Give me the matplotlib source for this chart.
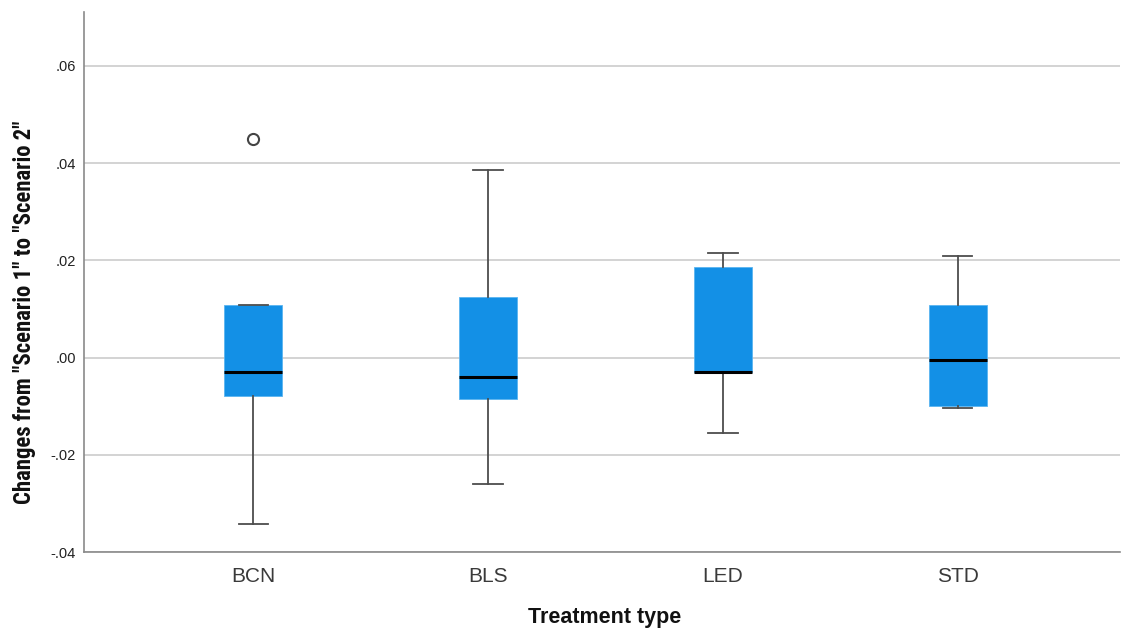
import matplotlib
matplotlib.use("Agg")
import matplotlib.pyplot as plt
from matplotlib import font_manager

# Treatment groups and their box-plot summaries
categories = ["BCN", "BLS", "LED", "STD"]
whisker_low = [-0.0343, -0.0261, -0.0155, -0.0104]
q1 = [-0.0080, -0.0086, -0.0029, -0.0100]
median = [-0.0029, -0.0040, -0.0029, -0.0006]
q3 = [0.0108, 0.0125, 0.0187, 0.0108]
whisker_high = [0.0108, 0.0386, 0.0216, 0.0209]
outliers = [[0.0450], [], [], []]

y_ticks = [-0.04, -0.02, 0.00, 0.02, 0.04, 0.06]


def spss_fmt(v):
    s = f"{v:.2f}"
    return s.replace("0.", ".", 1)


# Pick a condensed sans face for the vertical axis title when one is installed
fonts = font_manager.fontManager.ttflist
narrow_family, narrow_stretch = "Liberation Sans", "normal"
for f in fonts:
    if f.name in ("Liberation Sans Narrow", "Arial Narrow", "Roboto Condensed"):
        narrow_family, narrow_stretch = f.name, "normal"
        break
else:
    for f in fonts:
        if f.name == "DejaVu Sans" and f.stretch == "condensed":
            narrow_family, narrow_stretch = "DejaVu Sans", "condensed"
            break

fig = plt.figure(figsize=(11.22, 6.32), dpi=100)
ax = fig.add_axes([84 / 1122, 1 - 552 / 632, (1120 - 84) / 1122, (552 - 12) / 632])

stats = []
for i, cat in enumerate(categories):
    stats.append(dict(label=cat, whislo=whisker_low[i], q1=q1[i], med=median[i],
                      q3=q3[i], whishi=whisker_high[i], fliers=outliers[i]))

ax.bxp(stats, positions=range(len(categories)), widths=0.248, patch_artist=True,
       showfliers=True, capwidths=0.124,
       boxprops=dict(facecolor="#1390e6", edgecolor="#5ab4f0", linewidth=0.6),
       medianprops=dict(color="black", linewidth=2.2),
       whiskerprops=dict(color="#4d4d4d", linewidth=1.3),
       capprops=dict(color="#4d4d4d", linewidth=1.3),
       flierprops=dict(marker="o", markersize=8, markerfacecolor="white",
                       markeredgecolor="#444444", markeredgewidth=1.5),
       zorder=3)

ax.set_xlim(-0.72, 3.69)
ax.set_ylim(-0.04, 0.0711)
ax.set_yticks(y_ticks)
ax.set_yticklabels([spss_fmt(v) for v in y_ticks], fontsize=10.5, color="#222222",
                   family="Liberation Sans")
ax.set_xticks(range(len(categories)))
ax.set_xticklabels(categories, fontsize=15, color="#3a3a3a", family="Liberation Sans")
ax.tick_params(axis="both", length=0)
ax.tick_params(axis="y", pad=6)
ax.tick_params(axis="x", pad=11)

ax.yaxis.grid(True, color="#d3d3d3", linewidth=1.4, zorder=0)
ax.set_axisbelow(True)
for side in ["top", "right"]:
    ax.spines[side].set_visible(False)
for side in ["left", "bottom"]:
    ax.spines[side].set_color("#8a8a8a")
    ax.spines[side].set_linewidth(1.2)

ylab_size = 16.4 if narrow_family != "Liberation Sans" else 13.8
fig.text(25 / 1122, 1 - 312 / 632, 'Changes from "Scenario 1" to "Scenario 2"',
         rotation=90, ha="center", va="center", fontsize=ylab_size, fontweight="bold",
         family=narrow_family, fontstretch=narrow_stretch, color="#111111")
fig.text(605 / 1122, 1 - 617 / 632, "Treatment type", ha="center", va="center",
         fontsize=15.5, fontweight="bold", family="Liberation Sans", color="#111111")

fig.savefig("out.png", dpi=100, facecolor="white")
